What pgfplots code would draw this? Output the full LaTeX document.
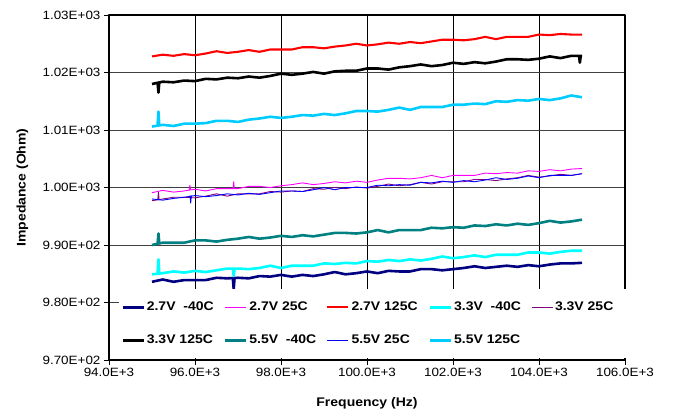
\documentclass[border=0pt]{standalone}
\usepackage{fontspec}
\setmainfont{Liberation Sans}[FakeStretch=1.12]
\usepackage{pgfplots}
\usepackage{pgfplotstable}
\pgfplotsset{compat=1.18}
\definecolor{cNavy}{RGB}{0,0,128}
\definecolor{cMag}{RGB}{255,0,255}
\definecolor{cRed}{RGB}{255,0,0}
\definecolor{cCyan}{RGB}{0,255,255}
\definecolor{cPurp}{RGB}{128,0,128}
\definecolor{cTeal}{RGB}{0,128,128}
\definecolor{cBlue}{RGB}{0,0,255}
\definecolor{cSky}{RGB}{0,204,255}
\pgfplotsset{
 sA/.style={color=cNavy, line width=2.6bp},
 sB/.style={color=cMag, line width=0.9bp},
 sC/.style={color=cRed, line width=2.1bp},
 sD/.style={color=cCyan, line width=2.6bp},
 sE/.style={color=cPurp, line width=0.9bp},
 sF/.style={color=black, line width=2.6bp},
 sG/.style={color=cTeal, line width=2.6bp},
 sH/.style={color=cBlue, line width=0.9bp},
 sI/.style={color=cSky, line width=2.6bp},
}
\newcommand{\legbox}[1]{\makebox[75bp][l]{#1}}
\pgfplotstableread{
f s1 s2 s3 s4 s5 s6 s7 s8 s9
95000 983.6 999.1 1022.8 984.9 997.7 1018.0 990.0 998.0 1010.6
95250 984.0 999.5 1023.1 985.1 998.0 1018.4 990.4 997.8 1010.9
95500 983.6 999.2 1022.9 985.4 998.3 1018.3 990.4 998.1 1010.7
95750 983.9 999.4 1023.2 985.2 998.3 1018.6 990.4 998.3 1011.1
96000 983.9 999.7 1023.0 985.5 998.2 1018.5 990.8 998.6 1011.1
96250 983.9 999.4 1023.3 985.3 998.5 1018.9 990.8 998.4 1011.2
96500 984.3 999.8 1023.7 985.6 998.9 1018.8 990.6 998.6 1011.6
96750 984.2 999.8 1023.4 985.9 998.5 1019.1 990.9 998.9 1011.6
97000 984.3 999.8 1023.6 985.9 998.9 1019.0 991.1 998.7 1011.4
97250 984.2 1000.2 1023.9 985.8 998.9 1019.3 991.4 999.0 1011.8
97500 984.6 1000.2 1023.6 986.0 998.9 1019.1 991.1 998.8 1012.0
97750 984.5 1000.0 1024.0 986.4 999.3 1019.4 991.3 999.1 1012.3
98000 984.8 1000.3 1024.0 986.0 999.2 1019.8 991.6 999.4 1012.1
98250 984.5 1000.5 1024.0 986.4 999.4 1019.6 991.4 999.4 1012.3
98500 984.8 1000.8 1024.4 986.4 999.3 1019.8 991.7 999.3 1012.6
98750 984.6 1000.5 1024.4 986.4 999.8 1020.1 991.5 999.6 1012.5
99000 984.9 1000.7 1024.2 986.8 999.7 1019.8 991.8 1000.0 1012.8
99250 985.3 1001.0 1024.5 986.7 1000.0 1020.2 992.1 999.6 1012.6
99500 984.9 1000.8 1024.7 986.9 999.8 1020.3 992.1 1000.0 1012.9
99750 985.1 1001.1 1025.0 986.8 1000.1 1020.3 992.0 1000.0 1013.3
100000 985.4 1000.9 1024.7 987.2 999.9 1020.7 992.2 1000.0 1013.3
100250 985.1 1001.3 1024.9 987.1 1000.2 1020.7 992.6 1000.4 1013.2
100500 985.5 1001.6 1025.2 987.4 1000.6 1020.5 992.2 1000.3 1013.5
100750 985.4 1001.6 1025.0 987.2 1000.3 1020.9 992.6 1000.5 1013.9
101000 985.4 1001.5 1025.3 987.5 1000.5 1021.1 992.6 1000.4 1013.5
101250 985.8 1001.7 1025.1 987.3 1000.9 1021.4 992.6 1000.9 1014.0
101500 985.8 1002.1 1025.4 987.6 1000.6 1021.1 993.0 1000.8 1014.0
101750 985.6 1001.7 1025.7 988.0 1001.0 1021.3 992.9 1001.1 1014.0
102000 985.8 1002.1 1025.7 987.7 1001.0 1021.7 993.1 1000.9 1014.4
102250 986.0 1002.1 1025.6 987.9 1001.0 1021.5 993.0 1001.2 1014.4
102500 986.3 1002.1 1025.8 988.2 1001.4 1021.8 993.4 1001.0 1014.6
102750 986.0 1002.5 1026.2 987.9 1001.4 1021.6 993.3 1001.3 1014.5
103000 986.2 1002.4 1025.8 988.3 1001.2 1021.9 993.6 1001.7 1015.0
103250 986.4 1002.6 1026.2 988.3 1001.5 1022.3 993.4 1001.4 1014.9
103500 986.2 1002.5 1026.2 988.3 1001.7 1022.3 993.7 1001.6 1015.2
103750 986.5 1002.9 1026.2 988.7 1002.1 1022.2 993.5 1002.0 1015.1
104000 986.3 1002.8 1026.6 988.7 1001.8 1022.4 993.8 1001.7 1015.4
104250 986.6 1003.1 1026.5 988.5 1002.0 1022.8 994.2 1002.1 1015.2
104500 986.8 1002.9 1026.7 988.8 1002.3 1022.5 993.9 1002.1 1015.5
104750 986.8 1003.2 1026.6 989.0 1002.1 1022.9 994.1 1002.1 1016.0
105000 986.9 1003.3 1026.6 989.0 1002.4 1022.9 994.4 1002.4 1015.7
}\datatable
\begin{document}
\begin{tikzpicture}
\begin{axis}[
 at={(0,0)}, anchor=south west,
 scale only axis, width=516bp, height=345bp,
 xmin=94000, xmax=106000, ymin=970, ymax=1030,
 scaled x ticks=false, scaled y ticks=false,
 xtick={94000,96000,98000,100000,102000,104000,106000},
 xticklabels={94.0E+3,96.0E+3,98.0E+3,100.0E+3,102.0E+3,104.0E+3,106.0E+3},
 ytick={970,980,990,1000,1010,1020,1030},
 yticklabels={9.70E+02,9.80E+02,9.90E+02,1.00E+03,1.01E+03,1.02E+03,1.03E+03},
 xmajorgrids, ymajorgrids,
 x grid style={black, line width=0.8bp},
 y grid style={black!75, line width=0.8bp},
 axis line style={line width=1.6bp},
 tick align=outside, xtick pos=bottom, ytick pos=left,
 major tick length=5bp,
 tick style={black, line width=0.8bp},
 ticklabel style={font=\fontsize{12bp}{14bp}\selectfont},
 xlabel={Frequency (Hz)}, ylabel={Impedance (Ohm)},
 label style={font=\bfseries\fontsize{12.5bp}{14bp}\selectfont},
 xlabel style={at={(axis description cs:0.5,-0.1246)}, anchor=center},
 ylabel style={at={(axis description cs:-0.168,0.5)}, anchor=center},
 legend columns=5,
 legend image code/.code={\draw[#1, line cap=butt] (0bp,0bp) -- (21bp,0bp);},
 legend style={at={(axis description cs:0.0194,0.2058)}, anchor=north west,
   draw=none, fill=white, inner xsep=2bp, inner ysep=10bp,
   column sep=0bp, row sep=17bp,
   font=\bfseries\fontsize{12.5bp}{14bp}\selectfont,
   nodes={inner xsep=2bp, text height=9bp, text depth=3bp, inner ysep=2bp}},
 line join=round,
]
\addplot[sA] table[x=f,y=s1]{\datatable};
\addlegendentry{\legbox{2.7V\ \ -40C}}
\addplot[sA, forget plot] coordinates {(96880,984.2)(96900,982.3)(96920,984.3)};
\addplot[sB] table[x=f,y=s2]{\datatable};
\addlegendentry{\legbox{2.7V 25C}}
\addplot[sB, forget plot] coordinates {(96885,999.8)(96900,1001.0)(96915,999.8)};
\addplot[sB, forget plot] coordinates {(95865,999.6)(95880,1000.4)(95895,999.6)};
\addplot[sC] table[x=f,y=s3]{\datatable};
\addlegendentry{\legbox{2.7V 125C}}
\addplot[sD] table[x=f,y=s4]{\datatable};
\addlegendentry{\legbox{3.3V\ \ -40C}}
\addplot[sD, forget plot] coordinates {(95130,985.1)(95150,987.5)(95170,985.1)};
\addplot[sD, forget plot] coordinates {(96880,985.9)(96900,984.6)(96920,985.9)};
\addplot[sE] table[x=f,y=s5]{\datatable};
\addlegendentry{\legbox{3.3V 25C}}
\addplot[sE, forget plot] coordinates {(95135,997.9)(95150,999.2)(95165,997.9)};
\addplot[sF] table[x=f,y=s6]{\datatable};
\addlegendentry{\legbox{3.3V 125C}}
\addplot[sF, forget plot] coordinates {(95130,1018.2)(95150,1016.5)(95170,1018.3)};
\addplot[sF, forget plot] coordinates {(104930,1022.9)(104950,1021.7)(104970,1022.9)};
\addplot[sG] table[x=f,y=s7]{\datatable};
\addlegendentry{\legbox{5.5V\ \ -40C}}
\addplot[sG, forget plot] coordinates {(95130,990.2)(95150,992.0)(95170,990.3)};
\addplot[sH] table[x=f,y=s8]{\datatable};
\addlegendentry{\legbox{5.5V 25C}}
\addplot[sH, forget plot] coordinates {(95885,998.6)(95900,997.3)(95915,998.6)};
\addplot[sI] table[x=f,y=s9]{\datatable};
\addlegendentry{\legbox{5.5V 125C}}
\addplot[sI, forget plot] coordinates {(95130,1010.8)(95150,1013.2)(95170,1010.8)};
\end{axis}
\pgfresetboundingbox
\path[use as bounding box] (-109bp,-54bp) rectangle (564bp,360bp);
\end{tikzpicture}
\end{document}
